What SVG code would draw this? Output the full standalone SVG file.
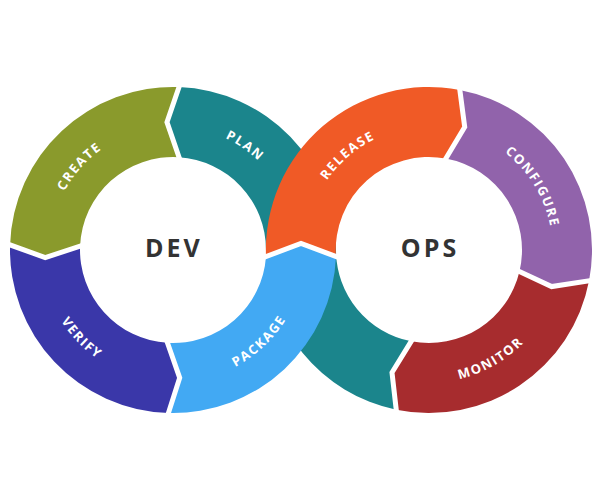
<svg xmlns="http://www.w3.org/2000/svg" width="600" height="500" viewBox="0 0 600 500">
<style>
.seg{stroke:none}
.gap{fill:none;stroke:#ffffff;stroke-width:5;stroke-linejoin:miter;stroke-linecap:square}
.lbl{font-family:"Open Sans","Liberation Sans",sans-serif;font-weight:700;font-size:13px;fill:#ffffff;letter-spacing:1.6px}
.hub{font-family:"Open Sans","Liberation Sans",sans-serif;font-weight:700;font-size:25px;fill:#333333;letter-spacing:3px}
</style>
<defs>
<path id="pPlan" d="M 120.22,138.35 A 123.5 123.5 0 0 1 296.08,260.12"/>
<path id="pCreate" d="M 55.75,288.78 A 123.5 123.5 0 0 1 198.04,129.07"/>
<path id="pRelease" d="M 307.65,272.93 A 123.5 123.5 0 0 1 469.82,133.44"/>
<path id="pConfigure" d="M 426.20,126.53 A 123.5 123.5 0 0 1 537.33,309.31"/>
<path id="pVerify" d="M 45.63,213.48 A 132.5 132.5 0 0 0 205.05,378.56"/>
<path id="pPackage" d="M 135.15,376.98 A 132.5 132.5 0 0 0 301.89,219.29"/>
<path id="pMonitor" d="M 361.75,364.17 A 132.5 132.5 0 0 0 561.49,251.16"/>
</defs>
<rect width="600" height="500" fill="#ffffff"/>
<g id="plan">
<path class="seg" fill="#1b858c" d="M 396.22,409.67 A 163 163 0 0 1 266,250 A 93 93 0 0 0 179.00,157.19 L 166.97,122.14 L 178.97,87.11 A 163 163 0 0 1 336,250 A 93 93 0 0 0 411.25,341.29 L 392.00,372.54 Z"/>
<text class="lbl"><textPath href="#pPlan" startOffset="50%" text-anchor="middle">PLAN</textPath></text>
</g>
<g id="create">
<path class="seg" fill="#8a9a2c" d="M 178.97,87.11 A 163 163 0 0 0 10.08,244.88 L 45.23,257.59 L 80.08,246.11 A 93 93 0 0 1 179.00,157.19 L 166.97,122.14 Z"/>
<text class="lbl"><textPath href="#pCreate" startOffset="50%" text-anchor="middle">CREATE</textPath></text>
</g>
<g id="verify">
<path class="seg" fill="#3a37a9" d="M 10.08,244.88 A 163 163 0 0 0 168.45,412.94 L 179.70,377.82 L 167.48,342.84 A 93 93 0 0 1 80.08,246.11 L 45.23,257.59 Z"/>
<text class="lbl"><textPath href="#pVerify" startOffset="50%" text-anchor="middle">VERIFY</textPath></text>
</g>
<g id="package">
<path class="seg" fill="#42a9f3" d="M 168.45,412.94 A 163 163 0 0 0 336,256.5 L 301,243.5 L 266,256.5 A 93 93 0 0 1 167.48,342.84 L 179.70,377.82 Z"/>
<text class="lbl"><textPath href="#pPackage" startOffset="50%" text-anchor="middle">PACKAGE</textPath></text>
</g>
<g id="release">
<path class="seg" fill="#f05a26" d="M 266,256.5 A 163 163 0 0 1 459.82,89.94 L 464.71,127.08 L 445.79,158.53 A 93 93 0 0 0 336,256.5 L 301,243.5 Z"/>
<text class="lbl"><textPath href="#pRelease" startOffset="50%" text-anchor="middle">RELEASE</textPath></text>
</g>
<g id="configure">
<path class="seg" fill="#9163ab" d="M 459.82,89.94 A 163 163 0 0 1 589.06,280.82 L 551.66,286.57 L 519.47,271.55 A 93 93 0 0 0 445.79,158.53 L 464.71,127.08 Z"/>
<text class="lbl"><textPath href="#pConfigure" startOffset="50%" text-anchor="middle">CONFIGURE</textPath></text>
</g>
<g id="monitor">
<path class="seg" fill="#a72c2e" d="M 589.06,280.82 A 163 163 0 0 1 396.22,409.67 L 392.00,372.54 L 411.25,341.29 A 93 93 0 0 0 519.47,271.55 L 551.66,286.57 Z"/>
<text class="lbl"><textPath href="#pMonitor" startOffset="50%" text-anchor="middle">MONITOR</textPath></text>
</g>
<g id="connectors">
<polyline class="gap" points="178.97,87.11 166.97,122.14 179.00,157.19"/>
<polyline class="gap" points="10.08,244.88 45.23,257.59 80.08,246.11"/>
<polyline class="gap" points="168.45,412.94 179.70,377.82 167.48,342.84"/>
<polyline class="gap" points="266,256.5 301,243.5 336,256.5"/>
<polyline class="gap" points="459.82,89.94 464.71,127.08 445.79,158.53"/>
<polyline class="gap" points="589.06,280.82 551.66,286.57 519.47,271.55"/>
<polyline class="gap" points="396.22,409.67 392.00,372.54 411.25,341.29"/>
</g>
<g id="dev">
<text class="hub" x="174" y="257" text-anchor="middle">DEV</text>
</g>
<g id="ops">
<text class="hub" x="430" y="257" text-anchor="middle">OPS</text>
</g>
</svg>
